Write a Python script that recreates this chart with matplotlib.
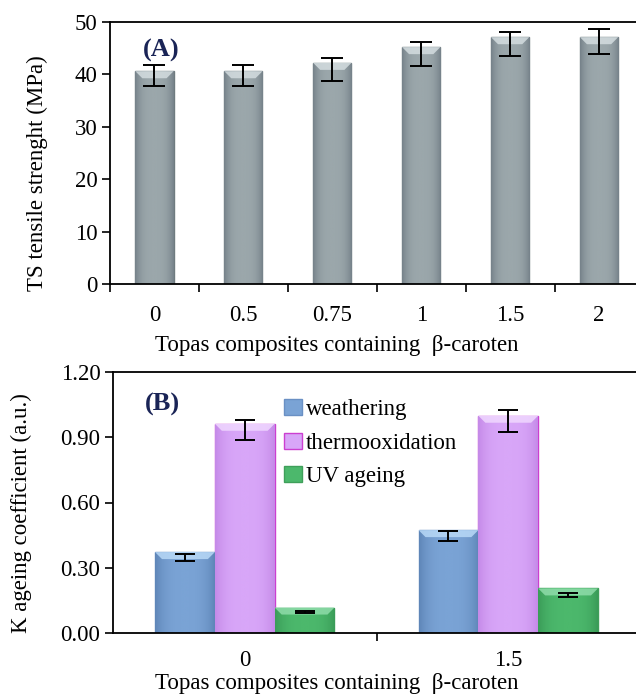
import matplotlib
matplotlib.use("Agg")
import matplotlib.pyplot as plt
import matplotlib.colors as mcolors
from matplotlib.patches import Polygon
import numpy as np

# ---- data ----
ts_categories = ["0", "0.5", "0.75", "1", "1.5", "2"]
ts_values = [40.6, 40.6, 42.2, 45.2, 47.1, 47.1]
ts_err_center = [39.8, 39.8, 41.0, 43.9, 45.8, 46.2]
ts_err = [2.0, 2.0, 2.2, 2.3, 2.3, 2.4]

k_categories = ["0", "1.5"]
k_series = ["weathering", "thermooxidation", "UV ageing"]
k_weathering = [0.372, 0.473]
k_thermo = [0.962, 0.999]
k_uv = [0.117, 0.205]
k_weathering_center = [0.347, 0.447]
k_thermo_center = [0.933, 0.973]
k_uv_center = [0.095, 0.175]
k_weathering_err = [0.016, 0.022]
k_thermo_err = [0.046, 0.051]
k_uv_err = [0.005, 0.011]

xlabel = "Topas composites containing  β-caroten"

plt.rcParams['font.family'] = ['Liberation Serif', 'DejaVu Serif']
FS = 16.5
SERIF = ['Liberation Serif', 'DejaVu Serif']


def shade_bars(ax, bars, base, dark, light, bevel_px=7):
    """Give library-drawn bars a horizontal gradient and a light top bevel."""
    t = np.linspace(0, 1, 64)
    prof = np.clip(1 - np.abs(2 * t - 1) ** 3, 0, 1)
    img = np.vstack([prof, prof])
    cmap = mcolors.LinearSegmentedColormap.from_list("g2", [dark, base])
    ax.figure.canvas.draw()
    inv = ax.transData.inverted()
    for p in bars:
        x0, y0, w, h = p.get_x(), p.get_y(), p.get_width(), p.get_height()
        im = ax.imshow(img, extent=(x0, x0 + w, y0, y0 + h), aspect="auto",
                       cmap=cmap, vmin=0, vmax=1, zorder=2.1, interpolation="bilinear")
        im.set_clip_path(p)
        top_disp = ax.transData.transform((x0, y0 + h))
        yb = inv.transform(top_disp - np.array([0, bevel_px]))[1]
        dx = inv.transform(top_disp + np.array([bevel_px, 0]))[0] - x0
        poly = Polygon([(x0, y0 + h), (x0 + w, y0 + h), (x0 + w - dx, yb), (x0 + dx, yb)],
                       closed=True, facecolor=light, edgecolor="none", zorder=2.2, alpha=0.85)
        ax.add_patch(poly)


fig = plt.figure(figsize=(6.36, 6.95), dpi=100)

# ---------- (A) ----------
axA = fig.add_axes([110/636, 1-284/695, (643.5-110)/636, 262/695])
x = np.arange(len(ts_categories))
barsA = axA.bar(x, ts_values, width=0.43, color="#95a1a5", edgecolor="#6f7b7f", linewidth=1.0, zorder=2)
axA.errorbar(x, ts_err_center, yerr=ts_err, fmt="none", ecolor="black",
             elinewidth=1.4, capsize=8, capthick=1.4, zorder=3)
axA.set_xlim(-0.5, len(ts_categories) - 0.5)
axA.set_ylim(0, 50)
axA.set_yticks(np.arange(0, 51, 10))
axA.set_xticks(x)
axA.set_xticklabels(ts_categories)
axA.set_xticks(np.arange(-0.5, len(ts_categories) - 0.5, 1), minor=True)
axA.tick_params(axis="x", which="major", length=0, pad=15, labelsize=FS)
axA.tick_params(axis="x", which="minor", length=6, width=1.2, direction="out")
axA.tick_params(axis="y", length=6, width=1.2, direction="out", labelsize=FS, pad=3)
axA.spines["right"].set_visible(False)
for s in ["top", "left", "bottom"]:
    axA.spines[s].set_linewidth(1.3)
axA.text(0.062, 0.893, "(A)", transform=axA.transAxes, fontsize=19, fontweight="bold",
         color="#1a2456", ha="left", va="center")
fig.text(37/636, 1-173/695, "TS tensile strenght (MPa)", rotation=90, ha="center", va="center", fontsize=FS)
fig.text(337/636, 1-345/695, xlabel, ha="center", va="center", fontsize=FS)

# ---------- (B) ----------
axB = fig.add_axes([113/636, 1-633/695, (640-113)/636, 261/695])
xb = np.arange(len(k_categories))
w = 0.227
colors = ["#7aa3d5", "#d8a6f8", "#4cb86c"]
darks = ["#5f86b8", "#c58ae8", "#3a9c58"]
lights = ["#b9d9f7", "#f0d8ff", "#8fdcaa"]
edges = ["#6a90c4", "#cc3fd0", "#3f9f5a"]
vals = [k_weathering, k_thermo, k_uv]
centers = [k_weathering_center, k_thermo_center, k_uv_center]
errs = [k_weathering_err, k_thermo_err, k_uv_err]
bar_groups = []
for i, (name, v, c, e) in enumerate(zip(k_series, vals, centers, errs)):
    pos = xb + (i - 1) * w
    b = axB.bar(pos, v, width=w, color=colors[i], edgecolor=edges[i], linewidth=1.0, label=name, zorder=2)
    bar_groups.append(b)
    axB.errorbar(pos, c, yerr=e, fmt="none", ecolor="black", elinewidth=1.4,
                 capsize=7, capthick=1.4, zorder=3)
axB.set_xlim(-0.5, len(k_categories) - 0.5)
axB.set_ylim(0, 1.2)
axB.set_yticks(np.arange(0, 1.21, 0.3))
axB.set_yticklabels([f"{t:.2f}" for t in np.arange(0, 1.21, 0.3)])
axB.set_xticks(xb)
axB.set_xticklabels(k_categories)
axB.set_xticks(np.arange(0.5, len(k_categories) - 0.5, 1), minor=True)
axB.tick_params(axis="x", which="major", length=0, pad=12, labelsize=FS)
axB.tick_params(axis="x", which="minor", length=6, width=1.2, direction="out")
axB.tick_params(axis="y", length=6, width=1.2, direction="out", labelsize=FS, pad=3)
axB.spines["right"].set_visible(False)
for s in ["top", "left", "bottom"]:
    axB.spines[s].set_linewidth(1.3)
axB.text(0.061, 0.877, "(B)", transform=axB.transAxes, fontsize=19, fontweight="bold",
         color="#1a2456", ha="left", va="center")
leg = axB.legend(loc="upper left", bbox_to_anchor=(0.294, 0.958), prop={'family': SERIF, 'size': FS},
                 frameon=True, handlelength=0.8, handleheight=0.7, handletextpad=0.15,
                 labelspacing=0.55, borderpad=0.2, fancybox=False)
leg.get_frame().set_facecolor("white")
leg.get_frame().set_edgecolor("none")
fig.text(21/636, 1-513/695, "K ageing coefficient (a.u.)", rotation=90, ha="center", va="center", fontsize=FS)
fig.text(337/636, 1-684/695, xlabel, ha="center", va="center", fontsize=FS)

# shading effects
shade_bars(axA, barsA, "#9ba7ab", "#76828a", "#d4dde0")
for b, base, dk, lt in zip(bar_groups, colors, darks, lights):
    shade_bars(axB, b, base, dk, lt)
axA.set_xlim(-0.5, len(ts_categories) - 0.5); axA.set_ylim(0, 50)
axB.set_xlim(-0.5, len(k_categories) - 0.5); axB.set_ylim(0, 1.2)

fig.savefig("out.png", dpi=100)
